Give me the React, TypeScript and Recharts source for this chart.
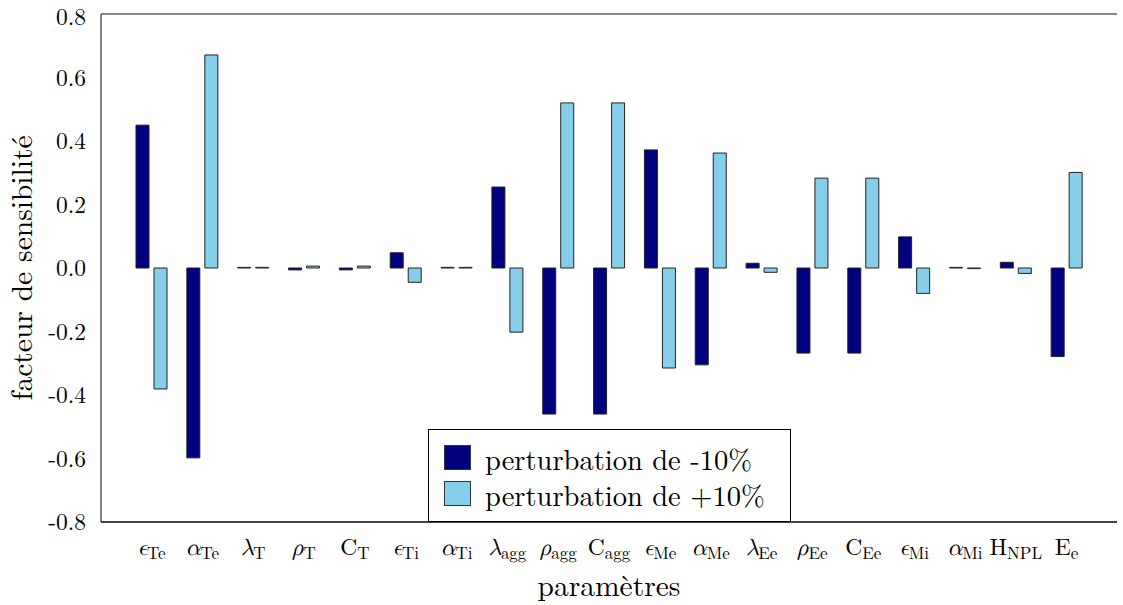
import React from 'react';
import { BarChart, Bar, XAxis, YAxis, CartesianGrid, Legend } from 'recharts';

const paramSymbols = ['ϵ', 'α', 'λ', 'ρ', 'C', 'ϵ', 'α', 'λ', 'ρ', 'C', 'ϵ', 'α', 'λ', 'ρ', 'C', 'ϵ', 'α', 'H', 'E'];
const paramSubscripts = ['Te', 'Te', 'T', 'T', 'T', 'Ti', 'Ti', 'agg', 'agg', 'agg', 'Me', 'Me', 'Ee', 'Ee', 'Ee', 'Mi', 'Mi', 'NPL', 'e'];
const minus10 = [0.45, -0.598, 0.002, -0.006, -0.006, 0.048, 0.002, 0.255, -0.46, -0.46, 0.372, -0.305, 0.015, -0.268, -0.268, 0.098, 0.002, 0.018, -0.279];
const plus10 = [-0.381, 0.671, 0.002, 0.006, 0.006, -0.045, 0.002, -0.202, 0.52, 0.52, -0.315, 0.362, -0.0135, 0.283, 0.283, -0.08, -0.002, -0.017, 0.301];
const yTicks = [-0.8, -0.6, -0.4, -0.2, 0.0, 0.2, 0.4, 0.6, 0.8];
const seriesNames = ['perturbation de -10%', 'perturbation de +10%'];
const xTitle = 'paramètres';
const yTitle = 'facteur de sensibilité';

const DARK = '#000080';
const LIGHT = '#87CEEB';
const FONT = "'Latin Modern Roman', 'Liberation Serif', serif";
const GREEK_FONT = "'Latin Modern Math', 'Latin Modern Roman', 'Liberation Serif', serif";

const data = paramSymbols.map((s, i) => ({
  key: s + '_' + paramSubscripts[i],
  minus: minus10[i],
  plus: plus10[i],
}));

const greek = new Set(['ϵ', 'α', 'λ', 'ρ']);

const CategoryTick = (props: any) => {
  const { x, y, index } = props;
  const sym = paramSymbols[index];
  const sub = paramSubscripts[index];
  const isGreek = greek.has(sym);
  return (
    <text x={x} y={y + 33} textAnchor="middle" style={{ fontFamily: FONT }} fontSize={23.5} fill="#000">
      <tspan style={isGreek ? { fontFamily: GREEK_FONT, fontStyle: 'italic' } : undefined}>{sym}</tspan>
      <tspan fontSize={17} dy={3.5}>{sub}</tspan>
    </text>
  );
};

const LegendBox = () => (
  <svg width={364} height={94} style={{ display: 'block' }}>
    <rect x={0.5} y={0.5} width={362} height={92} fill="#fff" stroke="#000" strokeWidth={1} />
    <rect x={16.5} y={16.5} width={26} height={24} fill={DARK} stroke="#333" strokeWidth={1} />
    <rect x={16.5} y={52.5} width={26} height={24} fill={LIGHT} stroke="#333" strokeWidth={1} />
    <text x={57} y={41} style={{ fontFamily: FONT }} fontSize={28.5} fill="#000">{seriesNames[0]}</text>
    <text x={57} y={77} style={{ fontFamily: FONT }} fontSize={28.5} fill="#000">{seriesNames[1]}</text>
  </svg>
);

const XTitle = (props: any) => {
  const vb = props.viewBox || {};
  return (
    <text x={vb.x + vb.width / 2} y={596} textAnchor="middle" style={{ fontFamily: FONT }} fontSize={29.5} fill="#000">
      {xTitle}
    </text>
  );
};

const YTitle = (props: any) => {
  const vb = props.viewBox || {};
  const cx = 32;
  const cy = vb.y + vb.height / 2;
  return (
    <text x={cx} y={cy} textAnchor="middle" transform={`rotate(-90 ${cx} ${cy})`} style={{ fontFamily: FONT }} fontSize={29.5} fill="#000">
      {yTitle}
    </text>
  );
};

export default function App() {
  return (
    <div style={{ position: 'absolute', left: 0, top: 0, width: 1123, height: 605, background: '#fff' }}>
      <BarChart
        width={1123}
        height={605}
        data={data}
        margin={{ top: 14, right: 6, bottom: 0, left: 0 }}
        barSize={13}
        barGap={5}
      >
        <CartesianGrid vertical={false} stroke="#111" strokeWidth={1} />
        <XAxis
          dataKey="key"
          height={83}
          padding={{ left: 25, right: 25 }}
          axisLine={{ stroke: '#000', strokeWidth: 1 }}
          tickLine={false}
          tickSize={0}
          tickMargin={0}
          interval={0}
          tick={<CategoryTick />}
          label={<XTitle />}
        />
        <YAxis
          yAxisId="left"
          width={101}
          domain={[-0.8, 0.8]}
          ticks={yTicks}
          tickFormatter={(v: number) => v.toFixed(1)}
          axisLine={{ stroke: '#000', strokeWidth: 1 }}
          tickLine={false}
          tickSize={0}
          tickMargin={15}
          tick={{ style: { fontFamily: FONT }, fontSize: 23.5, fill: '#000' }}
          label={<YTitle />}
        />
        <YAxis
          yAxisId="right"
          orientation="right"
          width={0}
          domain={[-0.8, 0.8]}
          ticks={yTicks}
          tick={false}
          tickLine={false}
          axisLine={{ stroke: '#000', strokeWidth: 1 }}
        />
        <Legend
          layout="vertical"
          align="center"
          verticalAlign="middle"
          content={<LegendBox />}
          wrapperStyle={{ position: 'absolute', left: 428, top: 429, width: 364, height: 94 }}
        />
        <Bar yAxisId="left" dataKey="minus" name={seriesNames[0]} fill={DARK} stroke="#222" strokeWidth={1} isAnimationActive={false} />
        <Bar yAxisId="left" dataKey="plus" name={seriesNames[1]} fill={LIGHT} stroke="#222" strokeWidth={1} isAnimationActive={false} />
      </BarChart>
    </div>
  );
}
